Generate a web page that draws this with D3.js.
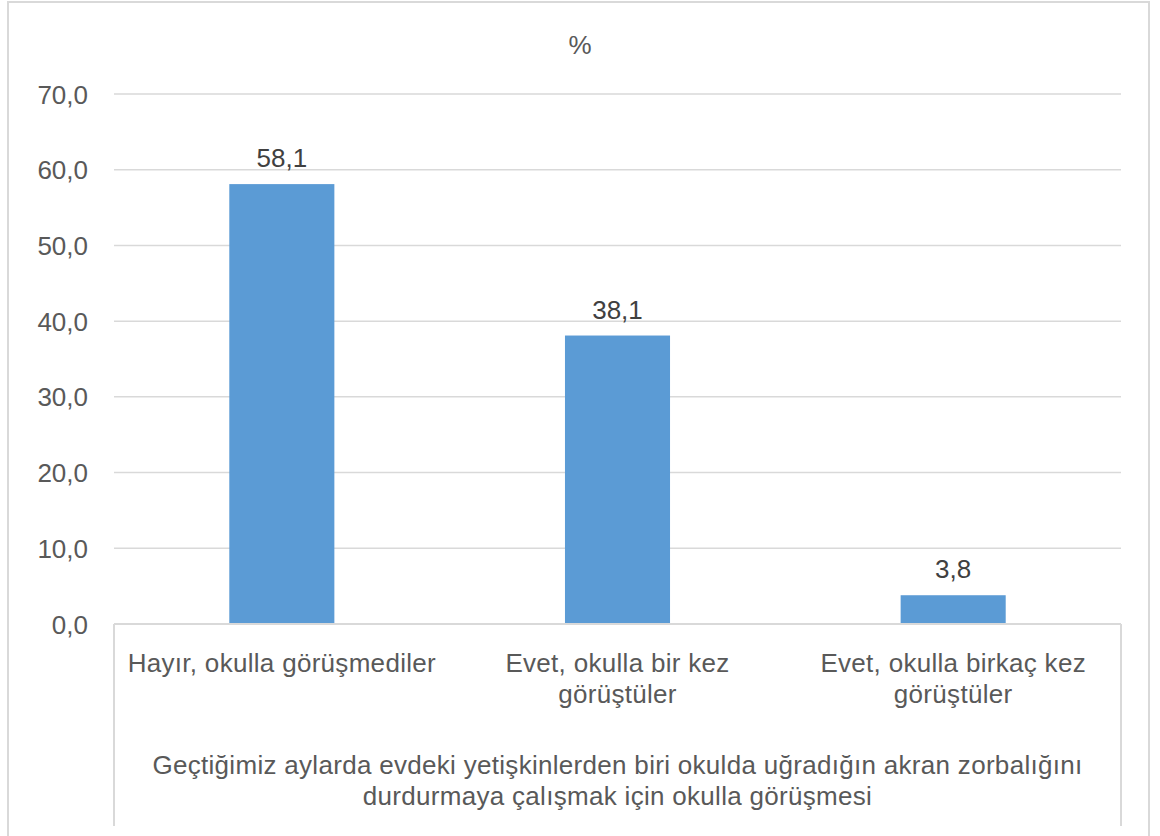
<!DOCTYPE html>
<html>
<head>
<meta charset="utf-8">
<script src="https://cdn.jsdelivr.net/npm/d3@7"></script>
<style>
  html, body { margin: 0; padding: 0; background: #fff; }
  svg { display: block; font-family: "Liberation Sans", Arial, sans-serif; }
</style>
</head>
<body>
<svg id="chart" width="1160" height="836"></svg>
<script>
// Category labels (each entry is a list of wrapped lines)
const categories = [
  ["Hayır, okulla görüşmediler"],
  ["Evet, okulla bir kez", "görüştüler"],
  ["Evet, okulla birkaç kez", "görüştüler"]
];
const values = [58.1, 38.1, 3.8];
const yTicks = [0, 10, 20, 30, 40, 50, 60, 70];
const chartTitle = "%";
const axisTitleLines = [
  "Geçtiğimiz aylarda evdeki yetişkinlerden biri okulda uğradığın akran zorbalığını",
  "durdurmaya çalışmak için okulla görüşmesi"
];

const svg = d3.select("#chart");
const W = 1160, H = 836;
const plot = { left: 114, right: 1121, top: 94, bottom: 624 };
const textColor = "#595959";
const gridColor = "#d9d9d9";
const barColor = "#5b9bd5";
const fontSize = 26;
const wordSpacing = "0.3px";

// Chart frame
svg.append("rect")
  .attr("x", 8).attr("y", 2)
  .attr("width", 1141).attr("height", H + 10)
  .attr("fill", "none")
  .attr("stroke", gridColor)
  .attr("stroke-width", 2);

const x = d3.scaleBand()
  .domain(d3.range(categories.length))
  .range([plot.left, plot.right])
  .paddingInner(0.687)
  .paddingOuter(0.3435);

const y = d3.scaleLinear()
  .domain([0, 70])
  .range([plot.bottom, plot.top]);

const fmt = v => d3.format(".1f")(v).replace(".", ",");

// Horizontal gridlines
svg.append("g")
  .selectAll("line")
  .data(yTicks.filter(t => t > 0))
  .join("line")
  .attr("x1", plot.left).attr("x2", plot.right)
  .attr("y1", d => y(d)).attr("y2", d => y(d))
  .attr("stroke", gridColor)
  .attr("stroke-width", 1.5);

// Y axis labels
const yAxis = d3.axisLeft(y).tickValues(yTicks).tickFormat(fmt).tickSize(0).tickPadding(26);
const yG = svg.append("g")
  .attr("transform", `translate(${plot.left},0)`)
  .call(yAxis);
yG.select(".domain").remove();
yG.selectAll("text")
  .attr("fill", textColor)
  .attr("dy", "0.35em")
  .style("font-size", fontSize + "px")
  .style("font-family", "'Liberation Sans', Arial, sans-serif");

// Bars
svg.append("g")
  .selectAll("rect")
  .data(values)
  .join("rect")
  .attr("x", (d, i) => x(i))
  .attr("width", x.bandwidth())
  .attr("y", d => y(d))
  .attr("height", d => y(0) - y(d))
  .attr("fill", barColor);

// Value labels
svg.append("g")
  .selectAll("text")
  .data(values)
  .join("text")
  .attr("x", (d, i) => x(i) + x.bandwidth() / 2)
  .attr("y", d => y(d) - 17)
  .attr("text-anchor", "middle")
  .attr("fill", "#404040")
  .style("font-size", fontSize + "px")
  .text(d => fmt(d));

// Category axis box (baseline plus outer edges)
const axisBox = svg.append("g")
  .attr("fill", "none")
  .attr("stroke", gridColor)
  .attr("stroke-width", 2);
axisBox.append("line")
  .attr("x1", plot.left).attr("x2", plot.right)
  .attr("y1", y(0)).attr("y2", y(0));
axisBox.append("line")
  .attr("x1", plot.left).attr("x2", plot.left)
  .attr("y1", y(0)).attr("y2", 826);
axisBox.append("line")
  .attr("x1", plot.right).attr("x2", plot.right)
  .attr("y1", y(0)).attr("y2", 826);

// Category labels
const catG = svg.append("g");
categories.forEach((lines, i) => {
  const t = catG.append("text")
    .attr("text-anchor", "middle")
    .attr("fill", textColor)
    .style("letter-spacing", wordSpacing)
    .style("font-size", fontSize + "px");
  lines.forEach((ln, j) => {
    t.append("tspan")
      .attr("x", x(i) + x.bandwidth() / 2)
      .attr("y", 672 + j * 31)
      .text(ln);
  });
});

// Category group title
const at = svg.append("text")
  .attr("text-anchor", "middle")
  .attr("fill", textColor)
  .style("letter-spacing", wordSpacing)
  .style("font-size", fontSize + "px");
axisTitleLines.forEach((ln, j) => {
  at.append("tspan")
    .attr("x", (plot.left + plot.right) / 2)
    .attr("y", 774 + j * 31)
    .text(ln);
});

// Chart title
svg.append("text")
  .attr("x", 580)
  .attr("y", 54)
  .attr("text-anchor", "middle")
  .attr("fill", textColor)
  .style("font-size", fontSize + "px")
  .text(chartTitle);
</script>
</body>
</html>
